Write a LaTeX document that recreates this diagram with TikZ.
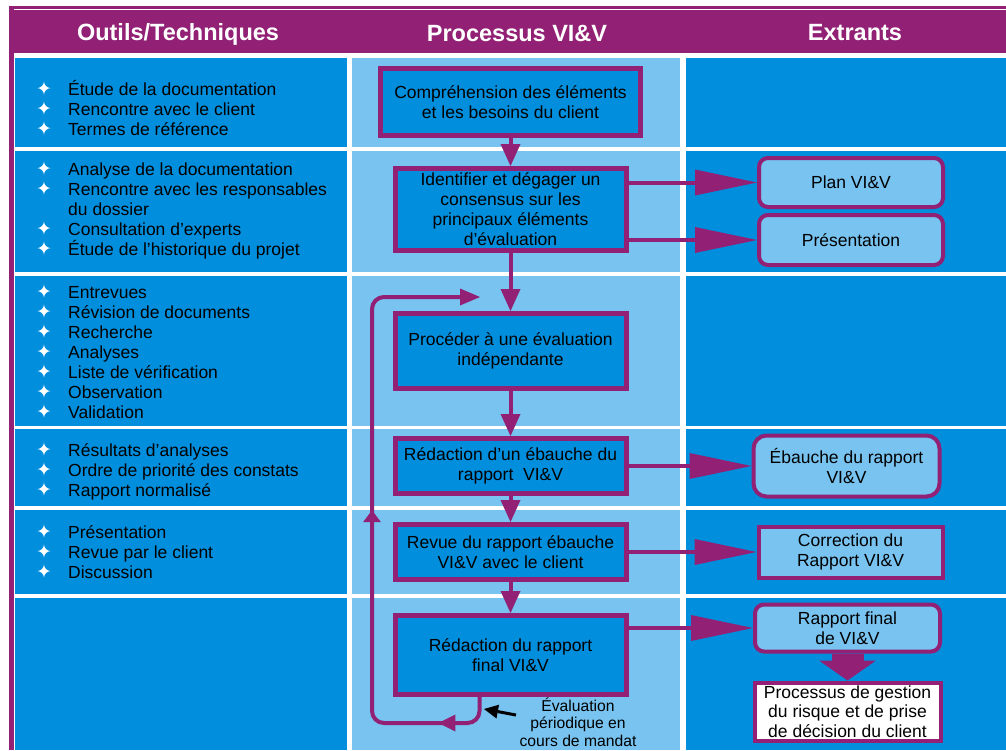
\documentclass[tikz,border=0pt]{standalone}
\usepackage{fontspec}
\setmainfont{Liberation Sans}
\newfontfamily\symb{DejaVu Sans}
\usepackage{tikz}
\usetikzlibrary{arrows.meta,positioning,decorations.markings}

\definecolor{vipurple}{RGB}{146,33,117}
\definecolor{midblue}{RGB}{0,142,221}
\definecolor{paleblue}{RGB}{120,195,240}

\newcommand{\bul}{\makebox[32pt][l]{\textcolor{white}{\symb\fontsize{19}{15}\selectfont ✦}}}

\begin{document}
\begin{tikzpicture}[x=1pt, y=-1pt, node distance=28pt, font=\fontsize{17.5}{20}\selectfont]
	\tikzstyle{headtext}=[text=white, font=\fontsize{23.5}{24}\selectfont\bfseries]
	\tikzstyle{tools}=[anchor=west, align=left, inner sep=0pt]
	\tikzstyle{procbox}=[draw=vipurple, line width=5pt, fill=midblue, inner sep=0pt, align=center, minimum width=231pt]
	\tikzstyle{outbox}=[draw=vipurple, line width=4pt, fill=paleblue, inner sep=0pt, align=center, minimum width=184pt]
	\tikzstyle{flow}=[draw=vipurple, line width=4pt, -{Triangle[length=22pt,width=20pt,line width=0pt]}]
	\tikzstyle{sidearrow}=[draw=vipurple, line width=4pt, -{Triangle[length=62pt,width=26pt,line width=0pt]}]
	\tikzstyle{fatarrow}=[draw=vipurple, line width=32pt, -{Triangle[length=20pt,width=57pt,line width=0pt]}]
	\tikzstyle{notearrow}=[draw=black, line width=3pt, -{Triangle[length=14pt,width=14pt,line width=0pt]}]
	\tikzstyle{cycleline}=[draw=vipurple, line width=4pt, rounded corners=12pt,
		-{Triangle[length=20pt,width=17pt,line width=0pt]},
		decoration={markings,
			mark=at position 62pt with {\arrow{Triangle[length=17pt,width=17pt,line width=0pt]}},
			mark=at position 336pt with {\arrow{Triangle[length=12pt,width=18pt,line width=0pt]}}},
		postaction={decorate}]

	\useasboundingbox (0,0) rectangle (1006,750);
	\fill[white] (0,0) rectangle (1006,750);
	\fill[vipurple] (9,6) rectangle (1006,53);
	\fill[vipurple] (9,6) rectangle (14,750);
	\draw[white, line width=1.5pt] (14,9.5) -- (1006,9.5);
	\foreach \t/\b in {58/147, 151/272, 276/426, 429/506, 510/594, 598/750} {
		\fill[midblue] (15,\t) rectangle (347,\b);
		\fill[paleblue] (352,\t) rectangle (680,\b);
		\fill[midblue] (686,\t) rectangle (1006,\b);
	}

	\node[headtext] (H1) at (178,34) {Outils/Techniques};
	\node[headtext] (H2) at (517,33) {Processus VI\&V};
	\node[headtext] (H3) at (855,33) {Extrants};

	\node[tools] (O1) at (36,108.5) {\bul Étude de la documentation\\\bul Rencontre avec le client\\\bul Termes de référence};
	\node[tools] (O2) at (36,210) {\bul Analyse de la documentation\\\bul Rencontre avec les responsables\\\hspace*{32pt}du dossier\\\bul Consultation d’experts\\\bul Étude de l’historique du projet};
	\node[tools] (O3) at (36,351.5) {\bul Entrevues\\\bul Révision de documents\\\bul Recherche\\\bul Analyses\\\bul Liste de vérification\\\bul Observation\\\bul Validation};
	\node[tools] (O4) at (36,471.5) {\bul Résultats d’analyses\\\bul Ordre de priorité des constats\\\bul Rapport normalisé};
	\node[tools] (O5) at (36,551.5) {\bul Présentation\\\bul Revue par le client\\\bul Discussion};

	\node[procbox, minimum width=260pt, minimum height=67pt] (P1) at (510.5,102) {Compréhension des éléments\\et les besoins du client};
	\node[procbox, minimum height=82pt] (P2) [below=28pt of P1] {Identifier et dégager un\\consensus sur les\\principaux éléments\\d’évaluation};
	\node[procbox, minimum height=75pt] (P3) [below=58pt of P2] {Procéder à une évaluation\\indépendante};
	\node[procbox, minimum height=55pt] (P4) [below=45pt of P3] {Rédaction d’un ébauche du\\rapport~~VI\&V};
	\node[procbox, minimum height=55pt] (P5) [below=26pt of P4] {Revue du rapport ébauche\\VI\&V avec le client};
	\node[procbox, minimum height=79pt] (P6) [below=31pt of P5] {Rédaction du rapport\\final VI\&V};

	\node[outbox, rounded corners=9pt, minimum height=49pt] (E1) at (851,182.5) {Plan VI\&V};
	\node[outbox, rounded corners=9pt, minimum height=50pt] (E2) [below=4pt of E1] {Présentation};
	\node[outbox, rounded corners=13pt, minimum width=186pt, minimum height=61pt] (E3) [right=123pt of P4] {Ébauche du rapport\\VI\&V};
	\node[outbox, minimum height=51pt] (E4) [right=128pt of P5] {Correction du\\Rapport VI\&V};
	\node[outbox, rounded corners=9pt, minimum width=185pt, minimum height=47pt] (E5) at (847.5,628) {Rapport final\\de VI\&V};
	\node[outbox, fill=white, minimum width=186pt, minimum height=58pt, font=\fontsize{17.5}{19.5}\selectfont] (E6) [below=27pt of E5] {Processus de gestion\\du risque et de prise\\de décision du client};

	\node[align=center, font=\fontsize{15.7}{17.5}\selectfont] (N) at (578,722) {Évaluation\\périodique en\\cours de mandat};
	\coordinate (C) at (372,723);
	\coordinate (L) at (480,297);
	\coordinate (R) at (484,709);

	\path
	(P1) edge[flow]	(P2)
	(P2) edge[flow]	(P3)
	(P3) edge[flow]	(P4)
	(P4) edge[flow]	(P5)
	(P5) edge[flow]	(P6)
	(P2.east |- E1) edge[sidearrow]	(E1)
	(P2.east |- E2) edge[sidearrow]	(E2)
	(P4) edge[sidearrow]	(E3)
	(P5) edge[sidearrow]	(E4)
	(P6.east |- E5) edge[sidearrow]	(E5)
	(E5) edge[fatarrow]	(E6);
	\draw[cycleline] ([xshift=-31pt]P6.south) |- (C) |- (L);
	\draw[notearrow] ([yshift=7pt]N.west) -- (R);
\end{tikzpicture}
\end{document}
